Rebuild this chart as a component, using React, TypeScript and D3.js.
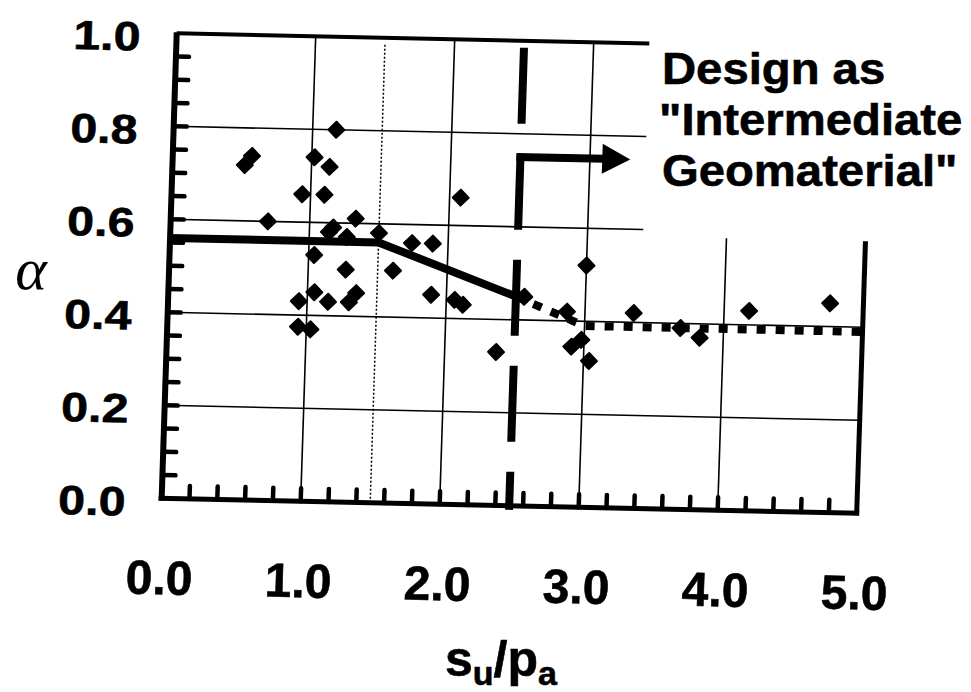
import React from "react";
import * as d3 from "d3";

// ---------- data ----------
const xTickValues = [0, 1, 2, 3, 4, 5];
const xTickLabels = ["0.0", "1.0", "2.0", "3.0", "4.0", "5.0"];
const yTickValues = [0, 0.2, 0.4, 0.6, 0.8, 1.0];
const yTickLabels = ["0.0", "0.2", "0.4", "0.6", "0.8", "1.0"];

const suPa = [
  1.17, 0.52, 0.57, 1.02, 1.13, 0.94, 1.10, 2.08, 0.70, 1.17, 1.14, 1.33, 1.50, 1.27,
  1.74, 1.89, 1.04, 1.27, 1.61, 1.05, 0.94, 1.15, 1.30, 1.35, 1.89, 2.06, 2.12, 0.94,
  1.03, 2.37, 3.00, 2.56, 2.87, 2.91, 2.98, 3.04, 3.35, 3.69, 3.83, 4.18, 4.76,
];
const alphaObs = [
  0.80, 0.72, 0.74, 0.74, 0.72, 0.66, 0.66, 0.66, 0.60, 0.59, 0.58, 0.61, 0.58, 0.57,
  0.56, 0.56, 0.53, 0.50, 0.50, 0.45, 0.43, 0.43, 0.43, 0.45, 0.45, 0.44, 0.43, 0.375,
  0.37, 0.33, 0.52, 0.45, 0.42, 0.345, 0.36, 0.315, 0.42, 0.39, 0.37, 0.43, 0.45,
];

const designX = [0, 1.5, 2.5];
const designAlpha = [0.56, 0.56, 0.45];
const extendX = [2.5, 3.0, 5.0];
const extendAlpha = [0.45, 0.39, 0.39];
const boundarySuPa = 2.5;
const dottedGridX = 1.5;
const annotationLines = ["Design as", "\"Intermediate", "Geomaterial\""];

// ---------- layout ----------
const W = 971;
const H = 692;
const PW = 695;
const PH = 465;
const FONT = "'Liberation Sans', Arial, Helvetica, sans-serif";

export default function App() {
  const xs = d3.scaleLinear().domain([0, 5]).range([0, PW]);
  const ys = d3.scaleLinear().domain([0, 1]).range([PH, 0]);

  const points = suPa.map((u, i) => ({ u, v: alphaObs[i] }));
  const line = d3
    .line<[number, number]>()
    .x((d) => xs(d[0]))
    .y((d) => ys(d[1]));
  const designPath = line(designX.map((x, i) => [x, designAlpha[i]]))!;
  const extendPath = line(extendX.map((x, i) => [x, extendAlpha[i]]))!;

  const diamond = d3.symbol().type(d3.symbolSquare).size(128)()!;

  const leftTicks = d3.range(1, 20).map((i) => i * 0.05);
  const bottomTicks = d3.range(1, 25).map((i) => i * 0.2);

  const cutX = 3.4; // text box region begins
  const cutY = 0.585;

  const arrowY = ys(0.75);
  const arrowTip = xs(3.29);

  return (
    <svg
      width={W}
      height={H}
      style={{ position: "absolute", left: 0, top: 0, background: "#fff" }}
      xmlns="http://www.w3.org/2000/svg"
    >
      <rect x={0} y={0} width={W} height={H} fill="#fff" />
      <g transform="matrix(1,0.0216,-0.0323,1,176.7,33.3)">
        {/* grid */}
        {[0.2, 0.4].map((v) => (
          <line key={"h" + v} x1={0} x2={PW} y1={ys(v)} y2={ys(v)} stroke="#000" strokeWidth={1.6} />
        ))}
        {[0.6, 0.8].map((v) => (
          <line key={"h" + v} x1={0} x2={xs(cutX)} y1={ys(v)} y2={ys(v)} stroke="#000" strokeWidth={1.6} />
        ))}
        {[1, 2, 3].map((u) => (
          <line key={"v" + u} x1={xs(u)} x2={xs(u)} y1={ys(0)} y2={ys(1)} stroke="#000" strokeWidth={1.6} />
        ))}
        <line x1={xs(4)} x2={xs(4)} y1={ys(0)} y2={ys(cutY)} stroke="#000" strokeWidth={1.6} />
        <line
          x1={xs(dottedGridX)}
          x2={xs(dottedGridX)}
          y1={ys(0)}
          y2={ys(0.985)}
          stroke="#000"
          strokeWidth={1.5}
          strokeDasharray="2,2"
        />

        {/* frame */}
        <line x1={0} x2={xs(cutX)} y1={0} y2={0} stroke="#000" strokeWidth={4} />
        <line x1={PW} x2={PW} y1={PH + 2} y2={ys(cutY)} stroke="#000" strokeWidth={5} />
        <line x1={0} x2={0} y1={PH + 2.5} y2={-1} stroke="#000" strokeWidth={6} />
        <line x1={-3} x2={PW + 2.5} y1={PH} y2={PH} stroke="#000" strokeWidth={5} />

        {/* ticks */}
        {leftTicks.map((v) => (
          <line key={"lt" + v} x1={0} x2={13} y1={ys(v)} y2={ys(v)} stroke="#000" strokeWidth={4.5} strokeLinecap="round" />
        ))}
        {bottomTicks.map((u) => (
          <line key={"bt" + u} x1={xs(u)} x2={xs(u)} y1={PH} y2={PH - 13} stroke="#000" strokeWidth={4.5} strokeLinecap="round" />
        ))}

        {/* design lines */}
        <path d={designPath} fill="none" stroke="#000" strokeWidth={8} strokeLinejoin="round" />
        <path d={extendPath} fill="none" stroke="#000" strokeWidth={8} strokeDasharray="9,10" />

        {/* boundary dashed line */}
        <line
          x1={xs(boundarySuPa)}
          x2={xs(boundarySuPa)}
          y1={ys(0.985)}
          y2={PH + 4}
          stroke="#000"
          strokeWidth={8}
          strokeDasharray="76,30"
        />
        {/* arrow */}
        <line x1={xs(boundarySuPa) - 4} x2={arrowTip - 26} y1={arrowY} y2={arrowY} stroke="#000" strokeWidth={8} />
        <path
          d={`M${arrowTip - 28},${arrowY - 15}L${arrowTip},${arrowY}L${arrowTip - 28},${arrowY + 15}Z`}
          fill="#000"
        />

        {/* data points */}
        {points.map((p, i) => (
          <path
            key={"p" + i}
            d={diamond}
            transform={`translate(${xs(p.u)},${ys(p.v)}) rotate(45)`}
            fill="#000"
            stroke="#000"
            strokeWidth={2}
            strokeLinejoin="round"
          />
        ))}

        {/* tick labels */}
        {yTickValues.map((v, i) => (
          <text
            key={"yl" + v}
            transform={`translate(-36,${ys(v) + 18}) scale(1.18,1)`}
            textAnchor="end"
            fontFamily={FONT}
            fontWeight="bold"
            fontSize={41}
            fill="#000"
            stroke="#000"
            strokeWidth={0.6}
          >
            {yTickLabels[i]}
          </text>
        ))}
        {xTickValues.map((u, i) => (
          <text
            key={"xl" + u}
            x={xs(u)}
            y={PH + 96}
            textAnchor="middle"
            fontFamily={FONT}
            fontWeight="bold"
            fontSize={48}
            fill="#000"
            stroke="#000"
            strokeWidth={0.6}
          >
            {xTickLabels[i]}
          </text>
        ))}
      </g>

      {/* annotation */}
      {annotationLines.map((t, i) => (
        <text
          key={"an" + i}
          transform={`translate(${i === 1 ? 659 : 662},${84 + i * 51}) scale(1.05,1)`}
          fontFamily={FONT}
          fontWeight="bold"
          fontSize={45}
          fill="#000"
          stroke="#000"
          strokeWidth={0.6}
        >
          {t}
        </text>
      ))}

      {/* axis titles */}
      <text x={31} y={289} textAnchor="middle" fontFamily="'Liberation Serif', 'DejaVu Serif', serif" fontStyle="italic" fontSize={60} fill="#000">
        α
      </text>
      <text
        x={501}
        y={676}
        textAnchor="middle"
        fontFamily={FONT}
        fontWeight="bold"
        fontSize={50}
        fill="#000"
        stroke="#000"
        strokeWidth={0.6}
      >
        s
        <tspan fontSize={34} dy={9}>u</tspan>
        <tspan dy={-9}>/p</tspan>
        <tspan fontSize={34} dy={9}>a</tspan>
      </text>
    </svg>
  );
}
